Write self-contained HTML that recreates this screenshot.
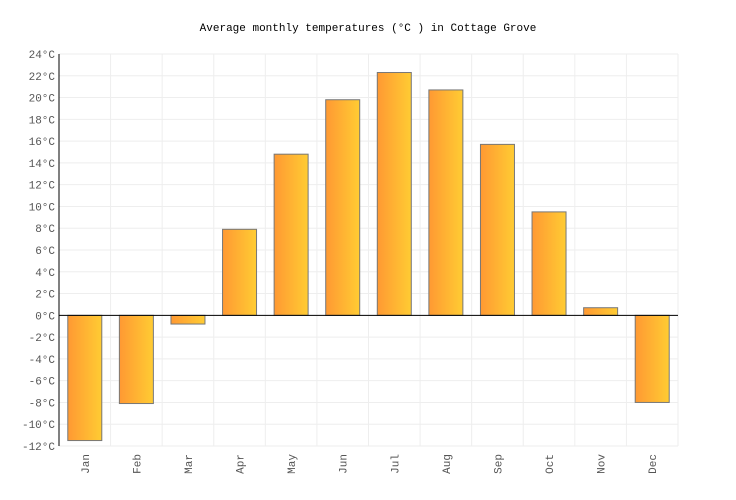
<!DOCTYPE html>
<html><head><meta charset="utf-8"><style>
body{margin:0;background:#fff}
svg{display:block;font-family:"Liberation Mono","DejaVu Sans Mono",monospace}
</style></head><body>
<svg id="c" width="736" height="500">
<defs><linearGradient id="g" x1="0" x2="1" y1="0" y2="0"><stop offset="0" stop-color="#ff9933"/><stop offset="1" stop-color="#ffcc33"/></linearGradient></defs>
<text x="368" y="31" text-anchor="middle" font-size="11" fill="#000">Average monthly temperatures (°C ) in Cottage Grove</text>
<g id="grid"></g><g id="bars"></g><g id="axes"></g>
</svg>
<script>
const months=["Jan","Feb","Mar","Apr","May","Jun","Jul","Aug","Sep","Oct","Nov","Dec"];
const temps=[-11.5,-8.1,-0.8,7.9,14.8,19.8,22.3,20.7,15.7,9.5,0.7,-8.0];
const yTicks=[-12,-10,-8,-6,-4,-2,0,2,4,6,8,10,12,14,16,18,20,22,24];
const L=59,R=678,T=54,B=446,yMin=-12,yMax=24;
const y=v=>T+(yMax-v)*(B-T)/(yMax-yMin);
const slot=(R-L)/months.length;
const x=i=>L+i*slot;
const NS="http://www.w3.org/2000/svg";
function mk(t,a,p){const e=document.createElementNS(NS,t);for(const k in a)e.setAttribute(k,a[k]);p.appendChild(e);return e;}
const grid=document.getElementById('grid'),bars=document.getElementById('bars'),axes=document.getElementById('axes');
yTicks.forEach(v=>{
 const l=mk('line',{x1:L,x2:R,y1:y(v),y2:y(v),stroke:'#eeeeee'},grid);
 
 
 const t=mk('text',{x:L-4,y:y(v)+4,'text-anchor':'end','font-size':11,fill:'#555'},axes);
 t.textContent=v+'°C';
 
 
});
for(let i=0;i<=months.length;i++){
 const l=mk('line',{x1:x(i),x2:x(i),y1:T,y2:B,stroke:'#eeeeee'},grid);
 
 
}
months.forEach((m,i)=>{
 const cx=x(i)+slot/2,w=34,v=temps[i];
 const top=Math.min(y(v),y(0)),h=Math.abs(y(v)-y(0));
 const r=mk('rect',{x:cx-w/2,y:top,width:w,height:h,fill:'url(#g)',stroke:'#777','stroke-width':1},bars);
 
 
 const t=mk('text',{x:0,y:0,transform:`translate(${cx+4},${B+8}) rotate(-90)`,'text-anchor':'end','font-size':11,fill:'#555'},axes);
 t.textContent=m;
 
 
});
const z=mk('line',{x1:L,x2:R,y1:y(0),y2:y(0),stroke:'#000'},axes);


const ya=mk('line',{x1:L,x2:L,y1:T,y2:B,stroke:'#000'},axes);


</script>
</body></html>
